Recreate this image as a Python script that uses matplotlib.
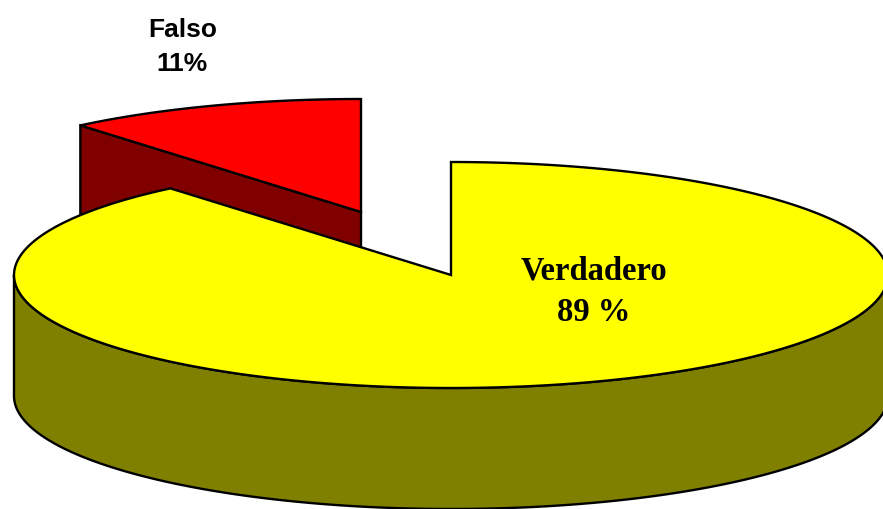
import numpy as np
import matplotlib
matplotlib.use('Agg')
import matplotlib.pyplot as plt

# datos del grafico
categorias = ['Verdadero', 'Falso']
valores = [88.9, 11.1]
etiquetas = ['Verdadero\n89 %', 'Falso\n11%']

# geometria del pastel 3D, en pixeles de la imagen
rx = 437
ry = 113
alto = 121
centro_v = (451, 275)
centro_f = (361, 212)
linea = 1.7


def borde(c, a0, a1):
    # puntos del borde, angulo en grados desde arriba en sentido horario
    t = np.radians(np.linspace(a0, a1, 300))
    return c[0] + rx * np.sin(t), c[1] - ry * np.cos(t)


fig = plt.figure(figsize=(8.83, 5.09), dpi=100)
ax = fig.add_axes([0, 0, 1, 1])
ax.set_xlim(0, 883)
ax.set_ylim(509, 0)
ax.axis('off')

angulo_v = 360 * valores[0] / sum(valores)

# parte falso: pared y tapa
x, y = borde(centro_f, angulo_v, 360)
ax.fill([centro_f[0], x[0], x[0], centro_f[0]],
        [centro_f[1], y[0], y[0] + alto, centro_f[1] + alto],
        facecolor='#800000', edgecolor='black', lw=linea)
ax.fill(np.r_[centro_f[0], x], np.r_[centro_f[1], y],
        facecolor='#ff0000', edgecolor='black', lw=linea)

# parte verdadero: lateral y tapa
x, y = borde(centro_v, 90, 270)
ax.fill(np.r_[x, x[::-1]], np.r_[y, y[::-1] + alto],
        facecolor='#808000', edgecolor='black', lw=linea)
x, y = borde(centro_v, 0, angulo_v)
ax.fill(np.r_[centro_v[0], x], np.r_[centro_v[1], y],
        facecolor='#ffff00', edgecolor='black', lw=linea)

# textos
ax.text(182.5, 47, etiquetas[1], ha='center', va='center', fontsize=19,
        fontweight='bold', family='Liberation Sans', linespacing=1.5)
ax.text(594, 291.5, etiquetas[0], ha='center', va='center', fontsize=23.5,
        fontweight='bold', family='Liberation Serif', linespacing=1.43)

fig.savefig('out.png', dpi=100)
